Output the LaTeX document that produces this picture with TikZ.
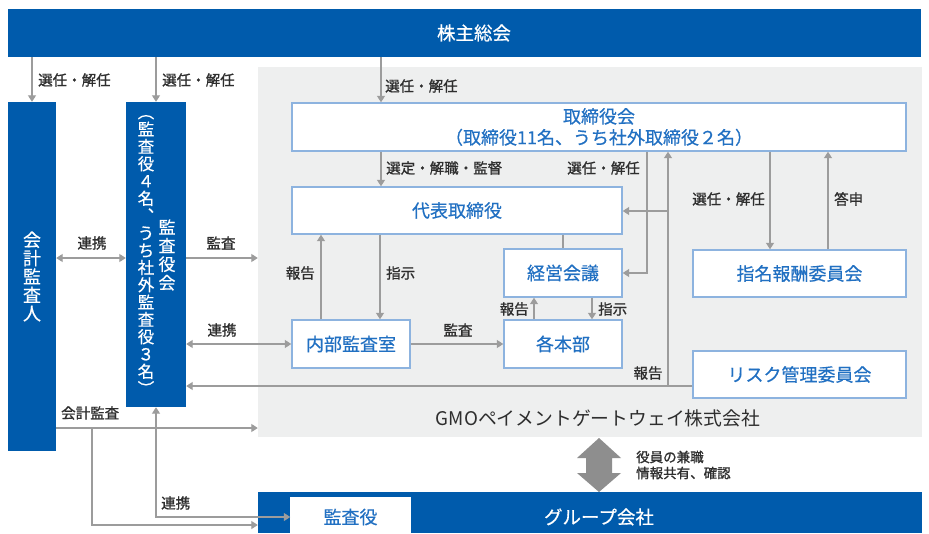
\documentclass[tikz,border=0pt]{standalone}
\usepackage{fontspec}
\setmainfont{Noto Sans CJK JP}
\newfontfamily\lblfont[FakeBold=1.2]{Noto Sans CJK JP}
\newfontfamily\boxfont[FakeBold=0.5]{Noto Sans CJK JP}
\usetikzlibrary{arrows.meta}
\definecolor{gblue}{HTML}{005BAC}
\definecolor{gbg}{HTML}{EEEFEF}
\definecolor{gline}{HTML}{9C9C9C}
\definecolor{garrow}{HTML}{8E8E8E}
\definecolor{btext}{HTML}{2170C2}
\definecolor{bborder}{HTML}{8DB3DF}
\definecolor{ltext}{HTML}{2E2E2E}
\begin{document}
\begin{tikzpicture}[x=1pt,y=-1pt,
  wbox/.style={draw=bborder, line width=1.4pt, fill=white, text=btext,
    font=\boxfont\fontsize{18}{21}\selectfont, inner sep=0pt, align=center},
  bbox/.style={fill=gblue, text=white, inner sep=0pt, align=center},
  vtxt/.style={text=white, inner sep=0pt, align=center},
  lbl/.style={text=ltext, inner sep=0pt, font=\lblfont\fontsize{14.5}{16}\selectfont},
  conn/.style={draw=gline, line width=1.3pt},
  arr/.style={conn, -{Triangle[width=8pt,length=6.5pt]}},
  darr/.style={conn, {Triangle[width=8pt,length=6.5pt]}-{Triangle[width=8pt,length=6.5pt]}}]
\useasboundingbox (0,0) rectangle (929,533);
\fill[white] (0,0) rectangle (929,533);
% helper coordinates
\coordinate (cx381) at (381,0);
\coordinate (cx646) at (647,0);
\coordinate (cx668) at (668,0);
\coordinate (cx770) at (770,0);
\coordinate (cx828) at (828,0);
\coordinate (cx321) at (321,0);
\coordinate (cx380) at (380,0);
\coordinate (cx534) at (534,0);
\coordinate (cx592) at (592,0);
\coordinate (cx92) at (92,0);
\coordinate (cy258) at (0,258);
\coordinate (cy344) at (0,344);
\coordinate (cy386) at (0,386);
\coordinate (cy211) at (0,211);
\coordinate (cy428) at (0,428);
\coordinate (cy525) at (0,525);
% background region
\node[fill=gbg, inner sep=0pt, minimum width=664pt, minimum height=370pt] (gmo) at (590,252) {};
\node[text=ltext, inner sep=0pt, font=\fontsize{18.8}{20}\selectfont] (gmoT) at (598,418) {GMOペイメントゲートウェイ株式会社};
% top bar
\node[bbox, minimum width=913pt, minimum height=48pt] (kabu) at (464.5,33) {};
\node[text=white, inner sep=0pt, font=\boxfont\fontsize{18.5}{20}\selectfont] (kabuT) at (474,33) {株主総会};
% left blue boxes
\node[bbox, minimum width=48pt, minimum height=349pt, font=\boxfont\fontsize{18}{18.4}\selectfont] (kaikei) at (32,276.5) {会\\計\\監\\査\\人};
\node[bbox, minimum width=60pt, minimum height=305pt] (kansa) at (156,254.5) {};
\node[vtxt, font=\boxfont\fontsize{17}{18.5}\selectfont] (kansaT1) at (167,255) {監\\査\\役\\会};
\node[vtxt, font=\boxfont\fontsize{16.5}{17.3}\selectfont] (kansaT2) at (146,255) {︵\\監\\査\\役\\４\\名\\︑\\う\\ち\\社\\外\\監\\査\\役\\３\\名\\︶};
% white boxes
\node[wbox, minimum width=614pt, minimum height=48pt] (tori) at (599,127) {取締役会\\（取締役11名、うち社外取締役２名）};
\node[wbox, minimum width=330pt, minimum height=47pt] (daihyo) at (457,210.5) {代表取締役};
\node[wbox, minimum width=118pt, minimum height=48pt] (keiei) at (563,273) {経営会議};
\node[wbox, minimum width=118pt, minimum height=48pt] (kakuhon) at (563,344) {各本部};
\node[wbox, minimum width=118pt, minimum height=48pt] (naibu) at (351,344) {内部監査室};
\node[wbox, minimum width=213pt, minimum height=47pt] (shimei) at (799.5,273.5) {指名報酬委員会};
\node[wbox, minimum width=213pt, minimum height=47pt] (risk) at (799.5,374.5) {リスク管理委員会};
% group bar
\node[bbox, minimum width=664pt, minimum height=41pt] (group) at (590,512.5) {};
\node[text=white, inner sep=0pt, font=\boxfont\fontsize{18.5}{20}\selectfont] (groupT) at (599,517) {グループ会社};
\node[wbox, draw=white, minimum width=119pt, minimum height=38pt] (kansayaku) at (350.5,517) {監査役};
% big double arrow
\fill[garrow] (599,438) -- (621,458) -- (612,458) -- (612,473) -- (621,473) -- (599,492)
  -- (577,473) -- (586,473) -- (586,458) -- (577,458) -- cycle;
\node[lbl, anchor=west, align=left, font=\lblfont\fontsize{13.5}{16}\selectfont] (kenshoku) at (636,465) {役員の兼職\\情報共有、確認};
% connectors
\draw[arr] (kabu.south -| kaikei) -- (kaikei.north);
\draw[arr] (kabu.south -| kansa) -- (kansa.north);
\draw[arr] (kabu.south -| cx381) -- (tori.north -| cx381);
\draw[arr] (tori.south -| cx381) -- (daihyo.north -| cx381);
\draw[arr] (tori.south -| cx646) |- (keiei.east);
\draw[arr] (risk.west |- cy386) -- (kansa.east |- cy386);
\draw[arr] (cx668 |- cy386) -- (tori.south -| cx668);
\draw[arr] (cx668 |- cy211) -- (daihyo.east |- cy211);
\draw[arr] (tori.south -| cx770) -- (shimei.north -| cx770);
\draw[arr] (shimei.north -| cx828) -- (tori.south -| cx828);
\draw[conn] (daihyo.south -| keiei) -- (keiei.north);
\draw[arr] (naibu.north -| cx321) -- (daihyo.south -| cx321);
\draw[arr] (daihyo.south -| cx380) -- (naibu.north -| cx380);
\draw[arr] (naibu.east) -- (kakuhon.west);
\draw[arr] (kakuhon.north -| cx534) -- (keiei.south -| cx534);
\draw[arr] (keiei.south -| cx592) -- (kakuhon.north -| cx592);
\draw[darr] (kaikei.east |- cy258) -- (kansa.west |- cy258);
\draw[arr] (kansa.east |- cy258) -- (gmo.west |- cy258);
\draw[darr] (kansa.east |- cy344) -- (naibu.west);
\draw[arr] (kaikei.east |- cy428) -- (gmo.west |- cy428);
\draw[arr] (cx92 |- cy428) |- (group.west |- cy525);
\draw[darr] (kansa.south) |- (kansayaku.west);
% labels
\node[lbl, anchor=west] (l1) at (38,80) {選任・解任};
\node[lbl, anchor=west] (l2) at (162,80) {選任・解任};
\node[lbl, anchor=west] (l3) at (385,86) {選任・解任};
\node[lbl, anchor=west] (l4) at (386,168) {選定・解職・監督};
\node[lbl, anchor=east] (l5) at (640,168) {選任・解任};
\node[lbl, anchor=east] (l6) at (765,199) {選任・解任};
\node[lbl, anchor=west] (l7) at (834,199) {答申};
\node[lbl, anchor=east] (l8) at (315,273) {報告};
\node[lbl, anchor=west] (l9) at (386,273) {指示};
\node[lbl] (l10) at (458,330) {監査};
\node[lbl, anchor=east] (l11) at (529,309) {報告};
\node[lbl, anchor=west] (l12) at (598,309) {指示};
\node[lbl] (l13) at (648,373) {報告};
\node[lbl] (l14) at (92,243) {連携};
\node[lbl] (l15) at (221,243) {監査};
\node[lbl] (l16) at (222,330) {連携};
\node[lbl, anchor=west] (l17) at (61,413) {会計監査};
\node[lbl, anchor=west] (l18) at (161,503) {連携};
\end{tikzpicture}
\end{document}
